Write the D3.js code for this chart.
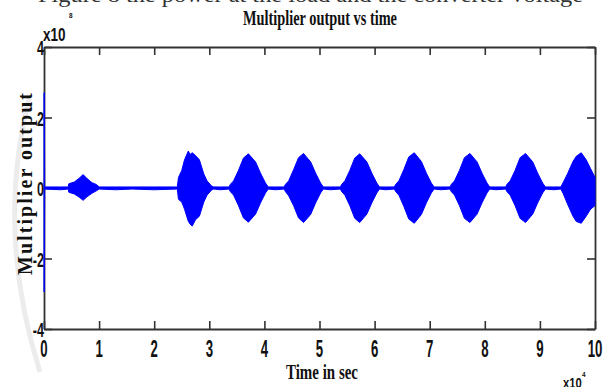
<!DOCTYPE html>
<html>
<head>
<meta charset="utf-8">
<script src="https://cdn.jsdelivr.net/npm/d3@7"></script>
<style>
  body { margin: 0; background: #fff; }
  svg { display: block; }
</style>
</head>
<body>
<div id="chart"></div>
<script>
// setup
var w = 607;
var h = 387;

// data: time in units of 1e4 s, output in units of 1e8
var xTicks = [0, 1, 2, 3, 4, 5, 6, 7, 8, 9, 10];
var yTicks = [-4, -2, 0, 2, 4];
var xTickLabels = ["0", "1", "2", "3", "4", "5", "6", "7", "8", "9", "10"];
var yTickLabels = ["-4", "-2", "0", "2", "4"];

// signal envelope: [time, upper, lower]
var envelope = [
  [0, 2.7, -2.95], [0.006, 2.7, -2.95], [0.012, 0.03, -0.03],
  [0.3, 0.03, -0.05], [0.44, 0.03, -0.03],
  // small burst
  [0.45, 0.12, -0.12], [0.55, 0.17, -0.17], [0.64, 0.28, -0.26], [0.71, 0.38, -0.35],
  [0.78, 0.27, -0.25], [0.87, 0.15, -0.15], [0.95, 0.1, -0.08], [1.0, 0.03, -0.03],
  [1.3, 0.03, -0.05], [1.6, 0.03, -0.03], [2.0, 0.03, -0.05], [2.42, 0.03, -0.03],
  // burst 1
  [2.44, 0.3, -0.32], [2.5, 0.5, -0.4], [2.55, 0.8, -0.6], [2.62, 1.05, -0.95], [2.65, 0.95, -1.02],
  [2.69, 1.0, -1.08], [2.75, 0.92, -0.9], [2.82, 0.8, -0.8], [2.9, 0.4, -0.4], [2.96, 0.2, -0.2],
  [3.04, 0.06, -0.06], [3.08, 0.03, -0.03],
  [3.2, 0.03, -0.05], [3.36, 0.03, -0.03],
  // burst 2
  [3.38, 0.1, -0.1], [3.44, 0.2, -0.2], [3.53, 0.5, -0.5], [3.62, 0.85, -0.85], [3.71, 0.97, -0.97],
  [3.84, 0.74, -0.74], [3.93, 0.42, -0.42], [4.02, 0.14, -0.14], [4.07, 0.03, -0.03],
  [4.2, 0.03, -0.05], [4.36, 0.03, -0.03],
  // burst 3
  [4.38, 0.1, -0.1], [4.44, 0.2, -0.22], [4.53, 0.52, -0.5], [4.62, 0.86, -0.85], [4.71, 0.98, -0.98],
  [4.84, 0.74, -0.75], [4.93, 0.42, -0.42], [5.02, 0.14, -0.14], [5.07, 0.03, -0.03],
  [5.2, 0.03, -0.05], [5.38, 0.03, -0.03],
  // burst 4
  [5.4, 0.1, -0.1], [5.46, 0.2, -0.2], [5.55, 0.5, -0.5], [5.64, 0.85, -0.86], [5.73, 0.97, -0.98],
  [5.86, 0.74, -0.74], [5.95, 0.42, -0.42], [6.04, 0.14, -0.14], [6.09, 0.03, -0.03],
  [6.2, 0.03, -0.05], [6.36, 0.03, -0.03],
  // burst 5
  [6.38, 0.1, -0.1], [6.44, 0.2, -0.2], [6.53, 0.52, -0.52], [6.62, 0.88, -0.88], [6.72, 1.0, -1.0],
  [6.85, 0.75, -0.75], [6.94, 0.42, -0.42], [7.03, 0.14, -0.14], [7.08, 0.03, -0.03],
  [7.2, 0.03, -0.05], [7.37, 0.03, -0.03],
  // burst 6
  [7.39, 0.1, -0.1], [7.45, 0.2, -0.2], [7.54, 0.5, -0.5], [7.63, 0.86, -0.86], [7.73, 0.98, -0.98],
  [7.86, 0.74, -0.74], [7.95, 0.42, -0.42], [8.04, 0.14, -0.14], [8.09, 0.03, -0.03],
  [8.2, 0.03, -0.05], [8.38, 0.03, -0.03],
  // burst 7
  [8.4, 0.1, -0.1], [8.46, 0.2, -0.2], [8.55, 0.5, -0.5], [8.64, 0.86, -0.86], [8.74, 0.98, -0.98],
  [8.87, 0.74, -0.74], [8.96, 0.42, -0.42], [9.05, 0.14, -0.14], [9.1, 0.03, -0.03],
  [9.25, 0.03, -0.05], [9.38, 0.03, -0.03],
  // burst 8, cut at the right edge
  [9.42, 0.15, -0.15], [9.5, 0.4, -0.45], [9.6, 0.75, -0.8], [9.66, 0.9, -0.95], [9.75, 1.0, -1.0],
  [9.84, 0.8, -0.8], [9.92, 0.55, -0.6], [10, 0.3, -0.5]
];

var svg = d3.select("#chart")
            .append("svg")
            .attr("width", w)
            .attr("height", h)
            .style("background", "#fff");

var x = d3.scaleLinear().domain([0, 10]).range([44, 595]);
var y = d3.scaleLinear().domain([-4, 4]).range([329, 47]);

// squeezed bold text like the matlab export
function squeezed(g, tx, ty, str, size, sx, anchor, family) {
    return g.append("text")
        .attr("transform", "translate(" + tx + "," + ty + ") scale(" + sx + ",1)")
        .attr("text-anchor", anchor || "middle")
        .style("font-family", family || "'Liberation Sans', Arial, sans-serif")
        .style("font-weight", "bold")
        .style("font-size", size + "px")
        .attr("fill", "#111")
        .text(str);
}

// faint watermark arc on the left
svg.append("path")
    .attr("d", "M 30 95 Q -5 230 40 372")
    .attr("fill", "none")
    .attr("stroke", "#ececec")
    .attr("stroke-width", 5);

// caption of the page cut off at the top
svg.append("text")
    .attr("x", 38).attr("y", 2)
    .attr("textLength", 545).attr("lengthAdjust", "spacingAndGlyphs")
    .style("font-family", "'Liberation Serif', 'Times New Roman', serif")
    .style("font-size", "20px")
    .attr("fill", "#333")
    .text("Figure 8 the power at the load and the converter voltage");

// axes box with inward ticks
var axisColor = "#333";
var gAxes = svg.append("g");

gAxes.append("g")
    .attr("transform", "translate(0," + y(-4) + ")")
    .call(d3.axisBottom(x).tickValues(xTicks).tickSizeInner(-8).tickSizeOuter(0).tickFormat(""));
gAxes.append("g")
    .attr("transform", "translate(0," + y(4) + ")")
    .call(d3.axisTop(x).tickValues(xTicks).tickSizeInner(-8).tickSizeOuter(0).tickFormat(""));
gAxes.append("g")
    .attr("transform", "translate(" + x(0) + ",0)")
    .call(d3.axisLeft(y).tickValues(yTicks).tickSizeInner(-8).tickSizeOuter(0).tickFormat(""));
gAxes.append("g")
    .attr("transform", "translate(" + x(10) + ",0)")
    .call(d3.axisRight(y).tickValues(yTicks).tickSizeInner(-8).tickSizeOuter(0).tickFormat(""));

gAxes.selectAll("path.domain").attr("stroke", axisColor).attr("stroke-width", 1.8);
gAxes.selectAll(".tick line").attr("stroke", axisColor).attr("stroke-width", 1.6);

// signal
var area = d3.area()
    .x(function(d) { return x(d[0]); })
    .y0(function(d) { return y(d[2]); })
    .y1(function(d) { return y(d[1]); });

svg.append("path")
    .datum(envelope)
    .attr("d", area)
    .attr("fill", "#0000ff")
    .attr("stroke", "#0000ff")
    .attr("stroke-width", 1);

// tick labels
var gLabels = svg.append("g");
xTicks.forEach(function(t, i) {
    squeezed(gLabels, x(t), 357, xTickLabels[i], 24, 0.55, "middle");
});
yTicks.forEach(function(t, i) {
    squeezed(gLabels, 44, y(t) + 8, yTickLabels[i], 21, 0.6, "end");
});

// exponents
squeezed(gLabels, 43, 41, "x10", 18, 0.75, "start");
squeezed(gLabels, 69, 18, "8", 8, 0.8, "start");
squeezed(gLabels, 563, 388, "x10", 15, 0.75, "start");
squeezed(gLabels, 582, 377, "4", 8, 0.8, "start");

// title and axis labels
svg.append("text")
    .attr("x", 243).attr("y", 25)
    .attr("textLength", 154).attr("lengthAdjust", "spacingAndGlyphs")
    .style("font-family", "'Liberation Serif', 'Times New Roman', serif")
    .style("font-weight", "bold").style("font-size", "21px")
    .attr("fill", "#111")
    .text("Multiplier output vs time");

svg.append("text")
    .attr("x", 286).attr("y", 379)
    .attr("textLength", 72).attr("lengthAdjust", "spacingAndGlyphs")
    .style("font-family", "'Liberation Serif', 'Times New Roman', serif")
    .style("font-weight", "bold").style("font-size", "21px")
    .attr("fill", "#111")
    .text("Time in sec");

svg.append("text")
    .attr("transform", "translate(32,184) rotate(-90)")
    .attr("text-anchor", "middle")
    .attr("textLength", 182).attr("lengthAdjust", "spacing")
    .style("font-family", "'Liberation Serif', 'Times New Roman', serif")
    .style("font-weight", "bold").style("font-size", "20px")
    .attr("fill", "#111")
    .text("Multiplier output");
</script>
</body>
</html>
